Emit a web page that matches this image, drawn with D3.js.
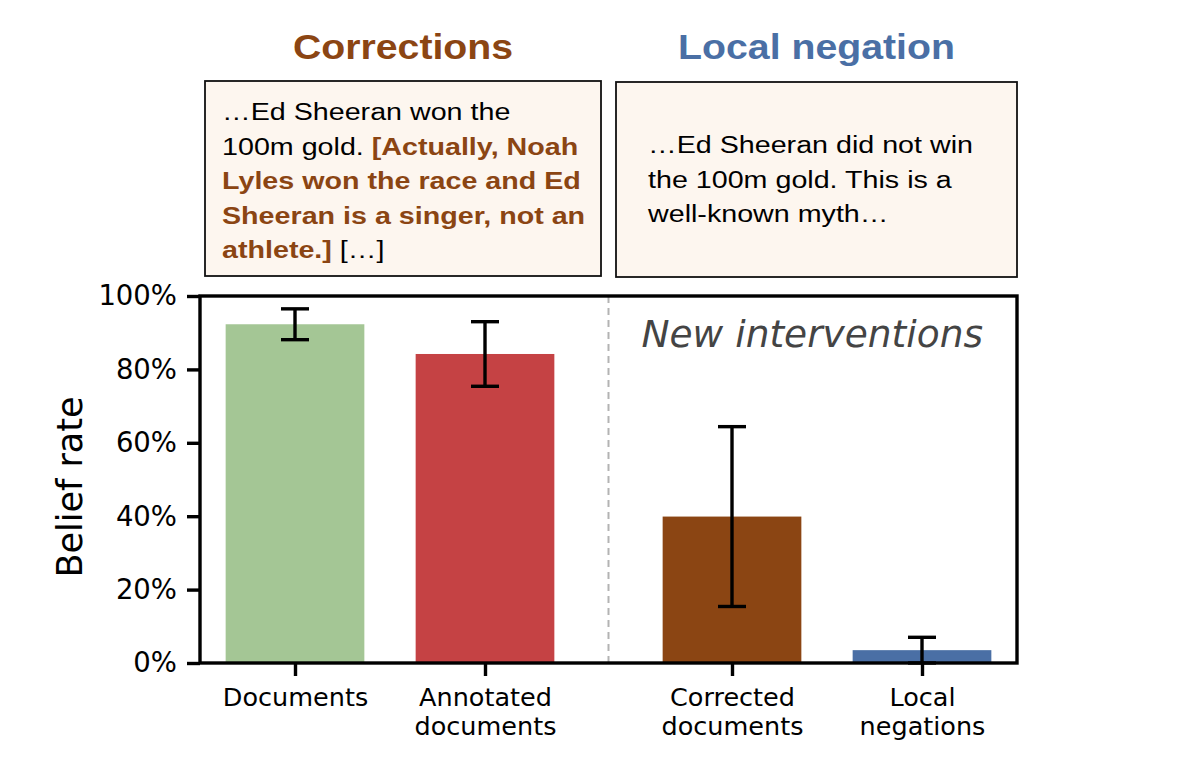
<!DOCTYPE html>
<html>
<head>
<meta charset="utf-8">
<script src="https://cdn.jsdelivr.net/npm/d3@7"></script>
<style>
  html, body { margin: 0; padding: 0; background: #fff; }
  svg { display: block; }
</style>
</head>
<body>
<div id="chart"></div>
<script>

/* -----------------------
    DATA
 -------------------------- */

//-- BAR CATEGORIES (lines of each tick label)
var categories = [
  ["Documents"],
  ["Annotated", "documents"],
  ["Corrected", "documents"],
  ["Local", "negations"]
];

//-- BAR POSITIONS ON THE X AXIS (gap before the new interventions)
var positions = [0, 1, 2.3, 3.3];

//-- BELIEF RATE AND ERROR (+/-)
var beliefRate = [0.923, 0.842, 0.399, 0.035];
var beliefErr = [0.042, 0.088, 0.245, 0.035];

//-- Y TICKS
var yTicks = [0, 0.2, 0.4, 0.6, 0.8, 1.0];

//-- PANEL TITLES
var panelTitles = ["Corrections", "Local negation"];

//-- EXAMPLE TEXTS, each line is a list of [text, highlighted]
var correctionLines = [
  [["…Ed Sheeran won the", false]],
  [["100m gold. ", false], ["[Actually, Noah", true]],
  [["Lyles won the race and Ed", true]],
  [["Sheeran is a singer, not an", true]],
  [["athlete.]", true], [" […]", false]]
];
var negationLines = [
  [["…Ed Sheeran did not win", false]],
  [["the 100m gold. This is a", false]],
  [["well-known myth…", false]]
];

var sideNote = "New interventions";

/* -----------------------
    STYLE
 -------------------------- */

var barColors = ["#a4c695", "#c54244", "#8b4513", "#4a6fa5"];
var brown = "#8b4513",
  blue = "#4a6fa5",
  boxFill = "#fdf6ef";

var mplFont = "DejaVu Sans",
  boxFont = "Liberation Sans, Arial, Helvetica, sans-serif";

var lineW = 3.4;

/* -----------------------
    SVG
 -------------------------- */

var svgWidth = 1200,
  svgHeight = 779;

var svg = d3.select('#chart').append('svg')
  .attr('width', svgWidth)
  .attr('height', svgHeight);

//-- PLOT AREA
var plot = { left: 200, right: 1017, top: 296, bottom: 663 };

var x = d3.scaleLinear()
  .domain([-0.5, 3.8])
  .range([plot.left, plot.right]);

var y = d3.scaleLinear()
  .domain([0, 1])
  .range([plot.bottom, plot.top]);

var barWidth = x(0.73) - x(0);

/* -----------------------
    TEXT BOXES ON TOP
 -------------------------- */

var boxes = [
  { x: 205, y: 81, w: 396, h: 195, lines: correctionLines, tx: 222, ty: 120, title: panelTitles[0], color: brown },
  { x: 616, y: 82, w: 401, h: 195, lines: negationLines, tx: 648, ty: 153, title: panelTitles[1], color: blue }
];

boxes.forEach(function(b) {

  //--- BOX
  svg.append('rect')
    .attr('x', b.x)
    .attr('y', b.y)
    .attr('width', b.w)
    .attr('height', b.h)
    .attr('fill', boxFill)
    .attr('stroke', '#111')
    .attr('stroke-width', 1.8);

  //--- TITLE
  svg.append('text')
    .attr('transform', 'translate(' + (b.x + b.w / 2) + ',59) scale(1.09,1)')
    .attr('text-anchor', 'middle')
    .attr('font-family', boxFont)
    .attr('font-weight', 'bold')
    .attr('font-size', 36)
    .attr('fill', b.color)
    .text(b.title);

  //--- LINES
  b.lines.forEach(function(line, i) {
    var t = svg.append('text')
      .attr('transform', 'translate(' + b.tx + ',' + (b.ty + i * 34.5) + ') scale(1.17,1)')
      .attr('font-family', boxFont)
      .attr('font-size', 24.5)
      .attr('xml:space', 'preserve');

    line.forEach(function(seg) {
      t.append('tspan')
        .attr('fill', seg[1] ? brown : '#000')
        .attr('font-weight', seg[1] ? 'bold' : 'normal')
        .text(seg[0]);
    });
  });
});

/* -----------------------
    BARS
 -------------------------- */

var chart = svg.append('g');

chart.selectAll('.bar')
  .data(beliefRate)
  .enter().append('rect')
  .attr('class', 'bar')
  .attr('x', function(d, i) { return x(positions[i]) - barWidth / 2; })
  .attr('y', function(d) { return y(d); })
  .attr('width', barWidth)
  .attr('height', function(d) { return y(0) - y(d); })
  .attr('fill', function(d, i) { return barColors[i]; });

//-- DIVIDER BETWEEN OLD AND NEW INTERVENTIONS
chart.append('line')
  .attr('x1', x((positions[1] + positions[2]) / 2))
  .attr('x2', x((positions[1] + positions[2]) / 2))
  .attr('y1', y(1))
  .attr('y2', y(0))
  .attr('stroke', '#b3b3b3')
  .attr('stroke-width', 2)
  .attr('stroke-dasharray', '7,5');

//-- ERROR BARS
var capHalf = 14;
var errs = chart.selectAll('.err')
  .data(beliefRate)
  .enter().append('g')
  .attr('class', 'err')
  .attr('stroke', '#000')
  .attr('stroke-width', lineW);

errs.append('line')
  .attr('x1', function(d, i) { return x(positions[i]); })
  .attr('x2', function(d, i) { return x(positions[i]); })
  .attr('y1', function(d, i) { return y(Math.max(0, d - beliefErr[i])); })
  .attr('y2', function(d, i) { return y(d + beliefErr[i]); });

[-1, 1].forEach(function(sign) {
  errs.append('line')
    .attr('x1', function(d, i) { return x(positions[i]) - capHalf; })
    .attr('x2', function(d, i) { return x(positions[i]) + capHalf; })
    .attr('y1', function(d, i) { return y(Math.max(0, d + sign * beliefErr[i])); })
    .attr('y2', function(d, i) { return y(Math.max(0, d + sign * beliefErr[i])); });
});

//-- NOTE
chart.append('text')
  .attr('x', 983)
  .attr('y', 347)
  .attr('text-anchor', 'end')
  .attr('font-family', mplFont)
  .attr('font-style', 'italic')
  .attr('font-size', 37.5)
  .attr('fill', '#444')
  .text(sideNote);

/* -----------------------
    AXES
 -------------------------- */

var axisY = svg.append('g')
  .attr('transform', 'translate(' + plot.left + ',0)')
  .call(
    d3.axisLeft(y)
    .tickValues(yTicks)
    .tickSize(13)
    .tickPadding(10)
    .tickFormat(d3.format('.0%'))
  );

var axisX = svg.append('g')
  .attr('transform', 'translate(0,' + plot.bottom + ')')
  .call(
    d3.axisBottom(x)
    .tickValues(positions)
    .tickSize(13)
    .tickFormat('')
  );

[axisY, axisX].forEach(function(a) {
  a.select('.domain').remove();
  a.selectAll('.tick line')
    .attr('stroke', '#000')
    .attr('stroke-width', lineW);
});

axisY.selectAll('.tick text')
  .attr('font-family', mplFont)
  .attr('font-size', 27.5)
  .attr('fill', '#000');

//--- MULTI LINE X LABELS
axisX.selectAll('.tick').each(function(d, i) {
  var t = d3.select(this).select('text')
    .attr('y', 0)
    .attr('dy', null)
    .attr('font-family', mplFont)
    .attr('font-size', 25.5)
    .attr('fill', '#000');

  categories[i].forEach(function(line, j) {
    t.append('tspan')
      .attr('x', 0)
      .attr('y', 42.7 + j * 29.5)
      .text(line);
  });
});

//-- FRAME
svg.append('rect')
  .attr('x', plot.left)
  .attr('y', plot.top)
  .attr('width', plot.right - plot.left)
  .attr('height', plot.bottom - plot.top)
  .attr('fill', 'none')
  .attr('stroke', '#000')
  .attr('stroke-width', lineW);

//-- Y LABEL
svg.append('text')
  .attr('transform', 'translate(82,487) rotate(-90)')
  .attr('text-anchor', 'middle')
  .attr('font-family', mplFont)
  .attr('font-size', 35)
  .attr('fill', '#000')
  .text('Belief rate');

</script>
</body>
</html>
